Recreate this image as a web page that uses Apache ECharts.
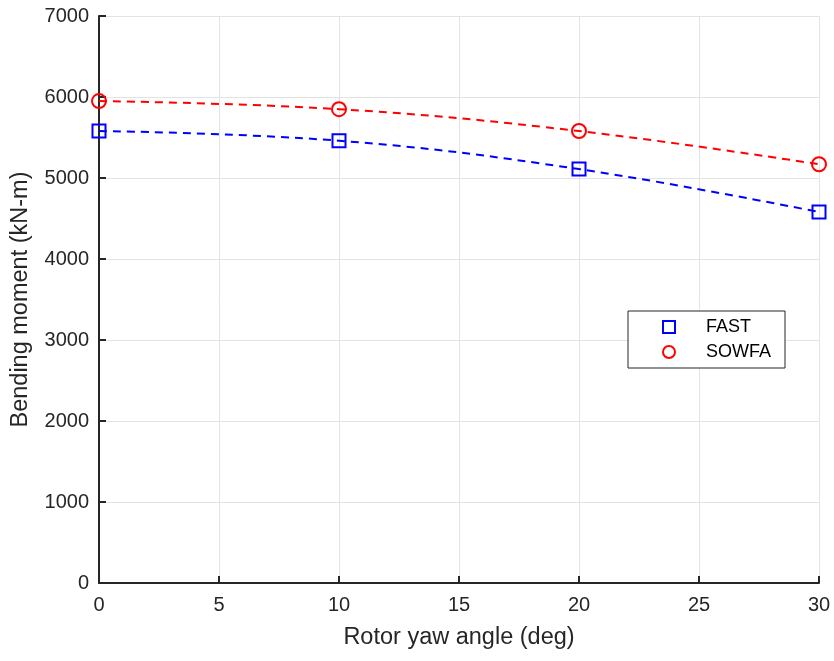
<!DOCTYPE html>
<html>
<head>
<meta charset="utf-8">
<script src="https://cdn.jsdelivr.net/npm/echarts@6/dist/echarts.min.js"></script>
<style>
html, body { margin: 0; padding: 0; background: #fff; }
#chart { width: 834px; height: 661px; }
</style>
</head>
<body>
<div id="chart"></div>
<script>
// yaw angles (deg)
var yawAngles = [0, 10, 20, 30];
// bending moment (kN-m)
var fastValues = [5580, 5460, 5110, 4580];
var sowfaValues = [5950, 5850, 5580, 5170];

var xTicks = [0, 5, 10, 15, 20, 25, 30];
var yTicks = [0, 1000, 2000, 3000, 4000, 5000, 6000, 7000];

function pairs(xs, ys) {
    return xs.map(function (x, i) { return [x, ys[i]]; });
}

var myChart = echarts.init(document.getElementById('chart'));
var axisColor = '#262626';
var fontFam = 'Liberation Sans, Arial, sans-serif';

var option = {
    animation: false,
    grid: { left: 99, right: 15, top: 16, bottom: 78 },
    legend: {
        orient: 'vertical',
        left: 628,
        top: 311,
        padding: [7, 14, 7, 34],
        itemGap: 7,
        itemWidth: 12,
        itemHeight: 12,
        backgroundColor: '#fff',
        borderColor: '#262626',
        borderWidth: 1,
        textStyle: { fontFamily: fontFam, fontSize: 18, color: '#000', padding: [0, 0, 0, 26] },
        data: [
            { name: 'FAST', icon: 'rect', itemStyle: { color: 'transparent', borderColor: '#0000ff', borderWidth: 2 } },
            { name: 'SOWFA', icon: 'circle', itemStyle: { color: 'transparent', borderColor: '#ff0000', borderWidth: 2 } }
        ]
    },
    xAxis: {
        type: 'value',
        min: xTicks[0],
        max: xTicks[xTicks.length - 1],
        interval: 5,
        name: 'Rotor yaw angle (deg)',
        nameLocation: 'middle',
        nameGap: 43,
        nameTextStyle: { fontFamily: fontFam, fontSize: 23.5, color: axisColor },
        axisLine: { onZero: false, lineStyle: { color: axisColor, width: 2 } },
        axisTick: { inside: true, length: 7, lineStyle: { color: axisColor, width: 2 } },
        axisLabel: { fontFamily: fontFam, fontSize: 20, color: axisColor, margin: 12 },
        splitLine: { show: true, lineStyle: { color: '#e3e3e3', width: 1 } }
    },
    yAxis: {
        type: 'value',
        min: yTicks[0],
        max: yTicks[yTicks.length - 1],
        interval: 1000,
        name: 'Bending moment (kN-m)',
        nameLocation: 'middle',
        nameGap: 66,
        nameTextStyle: { fontFamily: fontFam, fontSize: 23.5, color: axisColor },
        axisLine: { show: true, onZero: false, lineStyle: { color: axisColor, width: 2 } },
        axisTick: { show: true, inside: true, length: 7, lineStyle: { color: axisColor, width: 2 } },
        axisLabel: {
            fontFamily: fontFam, fontSize: 20, color: axisColor, margin: 10,
            formatter: function (v) { return String(v); }
        },
        splitLine: { show: true, lineStyle: { color: '#e3e3e3', width: 1 } }
    },
    series: [
        {
            name: 'FAST fit',
            type: 'line',
            data: pairs(yawAngles, fastValues),
            smooth: 0.4,
            symbol: 'none',
            lineStyle: { color: '#0000ff', width: 2, type: [8, 6] },
            z: 2
        },
        {
            name: 'SOWFA fit',
            type: 'line',
            data: pairs(yawAngles, sowfaValues),
            smooth: 0.4,
            symbol: 'none',
            lineStyle: { color: '#ff0000', width: 2, type: [8, 6] },
            z: 2
        },
        {
            name: 'FAST',
            type: 'scatter',
            data: pairs(yawAngles, fastValues),
            symbol: 'rect',
            symbolSize: 13,
            itemStyle: { color: 'transparent', borderColor: '#0000ff', borderWidth: 2, opacity: 1 },
            z: 3
        },
        {
            name: 'SOWFA',
            type: 'scatter',
            data: pairs(yawAngles, sowfaValues),
            symbol: 'circle',
            symbolSize: 14,
            itemStyle: { color: 'transparent', borderColor: '#ff0000', borderWidth: 2, opacity: 1 },
            z: 3
        }
    ]
};
myChart.setOption(option);
</script>
</body>
</html>
